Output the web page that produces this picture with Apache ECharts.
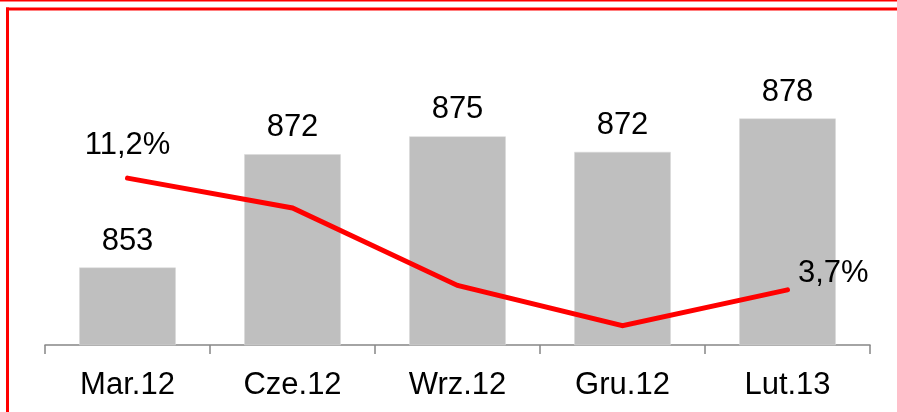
<!DOCTYPE html>
<html>
<head>
<meta charset="utf-8">
<script src="https://cdn.jsdelivr.net/npm/echarts@6/dist/echarts.min.js"></script>
<style>
    html, body { margin: 0; padding: 0; background: #fff; }
    #chart { width: 897px; height: 412px; }
</style>
</head>
<body>
<div id="chart"></div>
<script>
// dane
var categories = ['Mar.12', 'Cze.12', 'Wrz.12', 'Gru.12', 'Lut.13']
var barValues = [853, 872, 875, 872.4, 878]
var lineValues = [11.2, 9.2, 4.0, 1.3, 3.7]
// etykiety linii tylko na koncach
var lineLabelShown = [true, false, false, false, true]

var FONT = 'Liberation Sans, Arial, sans-serif'
var FS = 31

var chart = echarts.init(document.getElementById('chart'))

var lineData = lineValues.map(function (v, i) {
    var item = { value: v }
    if (lineLabelShown[i]) {
        item.label = i === 0
            ? { show: true, position: 'top', distance: 17 }
            : { show: true, position: 'right', distance: 10, offset: [0, -16] }
    }
    return item
})

var option = {
    animation: false,
    backgroundColor: '#fff',
    textStyle: { fontFamily: FONT },
    grid: { left: 45, right: 27, top: 47, bottom: 67 },
    graphic: [
        // ramka
        { type: 'rect', shape: { x: 0, y: 0, width: 897, height: 1.5 }, style: { fill: '#ff0000' } },
        { type: 'rect', shape: { x: 6, y: 7.5, width: 891, height: 3 }, style: { fill: '#ff0000' } },
        { type: 'rect', shape: { x: 6, y: 7.5, width: 3, height: 405 }, style: { fill: '#ff0000' } }
    ],
    xAxis: {
        type: 'category',
        data: categories,
        axisLine: { lineStyle: { color: '#868686', width: 1.5 } },
        axisTick: { show: true, length: 9, lineStyle: { color: '#868686', width: 1.5 } },
        axisLabel: { color: '#000', fontSize: FS, fontFamily: FONT, margin: 25 }
    },
    yAxis: [
        { type: 'value', min: 840, max: 890, show: false, splitLine: { show: false } },
        { type: 'value', min: 0, max: 20, show: false, splitLine: { show: false } }
    ],
    series: [
        {
            name: 'bars',
            type: 'bar',
            yAxisIndex: 0,
            data: barValues,
            barWidth: '58.5%',
            itemStyle: { color: '#bfbfbf', borderColor: '#d9d9d9', borderWidth: 0.5 },
            label: {
                show: true,
                position: 'top',
                distance: 11,
                color: '#000',
                fontSize: FS,
                fontFamily: FONT,
                formatter: function (p) { return Math.round(p.value) }
            }
        },
        {
            name: 'line',
            type: 'line',
            yAxisIndex: 1,
            data: lineData,
            symbol: 'circle',
            symbolSize: 1,
            itemStyle: { color: '#ff0000' },
            lineStyle: { color: '#ff0000', width: 5, cap: 'round', join: 'miter' },
            label: {
                show: false,
                color: '#000',
                fontSize: FS,
                fontFamily: FONT,
                formatter: function (p) { return p.value.toFixed(1).replace('.', ',') + '%' }
            }
        }
    ]
}
chart.setOption(option)
</script>
</body>
</html>
